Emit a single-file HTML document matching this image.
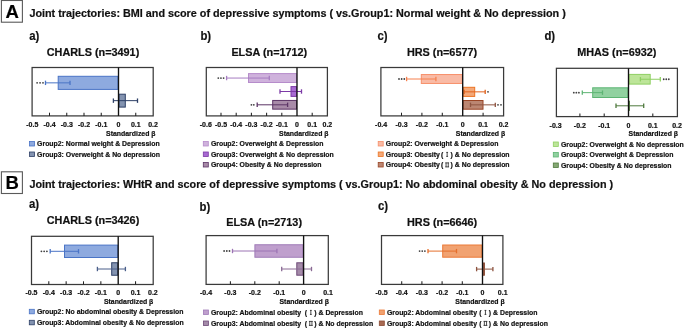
<!DOCTYPE html>
<html><head><meta charset="utf-8"><style>
html,body{margin:0;padding:0;background:#fff;width:685px;height:328px;overflow:hidden}
svg{display:block;font-family:"Liberation Sans", sans-serif}
text{stroke:#111;stroke-width:0.2px}
#w{will-change:transform;width:685px;height:328px}
</style></head><body>
<div id="w"><svg width="685" height="328" viewBox="0 0 685 328">
<rect x="1.40" y="0.50" width="21.00" height="21.70" fill="#fff" stroke="#5a5a5a" stroke-width="1.1"/>
<text x="12.2" y="17.6" font-size="18.5" font-weight="bold" text-anchor="middle" fill="#000" >A</text>
<text x="29.4" y="16.8" font-size="10.8" font-weight="bold" text-anchor="start" fill="#111" >Joint trajectories: BMI and score of depressive symptoms ( vs.Group1: Normal weight &amp; No depression )</text>
<rect x="1.40" y="171.80" width="21.00" height="21.70" fill="#fff" stroke="#5a5a5a" stroke-width="1.1"/>
<text x="12.2" y="188.9" font-size="18.5" font-weight="bold" text-anchor="middle" fill="#000" >B</text>
<text x="29.4" y="188" font-size="10.8" font-weight="bold" text-anchor="start" fill="#111" >Joint trajectories: WHtR and score of depressive symptoms ( vs.Group1: No abdominal obesity &amp; No depression )</text>
<text transform="translate(29.3,40.3) scale(0.88,1)" font-size="12.9" font-weight="bold" fill="#111">a)</text>
<text x="93" y="55.8" font-size="10.85" font-weight="bold" text-anchor="middle" fill="#111" >CHARLS (n=3491)</text>
<rect x="32.10" y="67.50" width="121.10" height="48.40" fill="#fff" stroke="#3a3a3a" stroke-width="1.25"/>
<text x="32.25" y="127" font-size="7" font-weight="bold" text-anchor="middle" fill="#111" >-0.5</text>
<line x1="49.50" y1="115.90" x2="49.50" y2="112.70" stroke="#222" stroke-width="1.05"/>
<text x="49.50" y="127" font-size="7" font-weight="bold" text-anchor="middle" fill="#111" >-0.4</text>
<line x1="66.75" y1="115.90" x2="66.75" y2="112.70" stroke="#222" stroke-width="1.05"/>
<text x="66.75" y="127" font-size="7" font-weight="bold" text-anchor="middle" fill="#111" >-0.3</text>
<line x1="84.00" y1="115.90" x2="84.00" y2="112.70" stroke="#222" stroke-width="1.05"/>
<text x="84.00" y="127" font-size="7" font-weight="bold" text-anchor="middle" fill="#111" >-0.2</text>
<line x1="101.25" y1="115.90" x2="101.25" y2="112.70" stroke="#222" stroke-width="1.05"/>
<text x="101.25" y="127" font-size="7" font-weight="bold" text-anchor="middle" fill="#111" >-0.1</text>
<text x="118.50" y="127" font-size="7" font-weight="bold" text-anchor="middle" fill="#111" >0</text>
<line x1="135.75" y1="115.90" x2="135.75" y2="112.70" stroke="#222" stroke-width="1.05"/>
<text x="135.75" y="127" font-size="7" font-weight="bold" text-anchor="middle" fill="#111" >0.1</text>
<text x="153.00" y="127" font-size="7" font-weight="bold" text-anchor="middle" fill="#111" >0.2</text>
<rect x="58.20" y="76.30" width="59.80" height="13.10" fill="#8eaadf" stroke="#4a74c6" stroke-width="1"/>
<line x1="45.50" y1="82.85" x2="70.00" y2="82.85" stroke="#4a74c6" stroke-width="1.0"/>
<line x1="45.50" y1="80.65" x2="45.50" y2="85.05" stroke="#4a74c6" stroke-width="1.3"/>
<line x1="70.00" y1="80.65" x2="70.00" y2="85.05" stroke="#4a74c6" stroke-width="1.3"/>
<circle cx="37.10" cy="82.85" r="0.9" fill="#404040"/>
<circle cx="40.05" cy="82.85" r="0.9" fill="#404040"/>
<circle cx="43.00" cy="82.85" r="0.9" fill="#404040"/>
<rect x="119.00" y="94.20" width="6.30" height="12.90" fill="#8393b0" stroke="#2e4067" stroke-width="1"/>
<line x1="113.40" y1="100.65" x2="137.50" y2="100.65" stroke="#2e4067" stroke-width="1.0"/>
<line x1="113.40" y1="98.45" x2="113.40" y2="102.85" stroke="#2e4067" stroke-width="1.3"/>
<line x1="137.50" y1="98.45" x2="137.50" y2="102.85" stroke="#2e4067" stroke-width="1.3"/>
<line x1="118.50" y1="67.50" x2="118.50" y2="115.90" stroke="#111" stroke-width="1.35"/>
<text x="155.5" y="135.6" font-size="6.9" font-weight="bold" text-anchor="end" fill="#111" >Standardized β</text>
<rect x="29.50" y="141.50" width="5.00" height="4.50" fill="#8eaadf" stroke="#4a74c6" stroke-width="0.8"/>
<text x="37.10" y="146.30" font-size="6.9" font-weight="bold" text-anchor="start" fill="#111" >Group2: Normal weight &amp; Depression</text>
<rect x="29.50" y="152.00" width="5.00" height="4.50" fill="#8393b0" stroke="#2e4067" stroke-width="0.8"/>
<text x="37.10" y="156.80" font-size="6.9" font-weight="bold" text-anchor="start" fill="#111" >Group3: Overweight &amp; No depression</text>
<text transform="translate(200.4,40.0) scale(0.88,1)" font-size="12.9" font-weight="bold" fill="#111">b)</text>
<text x="269.3" y="55.8" font-size="10.85" font-weight="bold" text-anchor="middle" fill="#111" >ELSA (n=1712)</text>
<rect x="206.30" y="67.50" width="121.10" height="48.40" fill="#fff" stroke="#3a3a3a" stroke-width="1.25"/>
<text x="205.80" y="127" font-size="7" font-weight="bold" text-anchor="middle" fill="#111" >-0.6</text>
<line x1="221.00" y1="115.90" x2="221.00" y2="112.70" stroke="#222" stroke-width="1.05"/>
<text x="221.00" y="127" font-size="7" font-weight="bold" text-anchor="middle" fill="#111" >-0.5</text>
<line x1="236.20" y1="115.90" x2="236.20" y2="112.70" stroke="#222" stroke-width="1.05"/>
<text x="236.20" y="127" font-size="7" font-weight="bold" text-anchor="middle" fill="#111" >-0.4</text>
<line x1="251.40" y1="115.90" x2="251.40" y2="112.70" stroke="#222" stroke-width="1.05"/>
<text x="251.40" y="127" font-size="7" font-weight="bold" text-anchor="middle" fill="#111" >-0.3</text>
<line x1="266.60" y1="115.90" x2="266.60" y2="112.70" stroke="#222" stroke-width="1.05"/>
<text x="266.60" y="127" font-size="7" font-weight="bold" text-anchor="middle" fill="#111" >-0.2</text>
<line x1="281.80" y1="115.90" x2="281.80" y2="112.70" stroke="#222" stroke-width="1.05"/>
<text x="281.80" y="127" font-size="7" font-weight="bold" text-anchor="middle" fill="#111" >-0.1</text>
<text x="297.00" y="127" font-size="7" font-weight="bold" text-anchor="middle" fill="#111" >0</text>
<line x1="312.20" y1="115.90" x2="312.20" y2="112.70" stroke="#222" stroke-width="1.05"/>
<text x="312.20" y="127" font-size="7" font-weight="bold" text-anchor="middle" fill="#111" >0.1</text>
<text x="327.40" y="127" font-size="7" font-weight="bold" text-anchor="middle" fill="#111" >0.2</text>
<rect x="248.50" y="73.60" width="48.00" height="8.90" fill="#cfb2dc" stroke="#b68ccb" stroke-width="1"/>
<line x1="226.60" y1="78.05" x2="269.30" y2="78.05" stroke="#a77dc2" stroke-width="1.0"/>
<line x1="226.60" y1="75.85" x2="226.60" y2="80.25" stroke="#a77dc2" stroke-width="1.3"/>
<line x1="269.30" y1="75.85" x2="269.30" y2="80.25" stroke="#a77dc2" stroke-width="1.3"/>
<circle cx="218.30" cy="78.05" r="0.9" fill="#404040"/>
<circle cx="220.95" cy="78.05" r="0.9" fill="#404040"/>
<circle cx="223.60" cy="78.05" r="0.9" fill="#404040"/>
<rect x="291.00" y="86.60" width="5.50" height="9.80" fill="#a86ad2" stroke="#7c3aa6" stroke-width="1"/>
<line x1="280.00" y1="91.50" x2="301.50" y2="91.50" stroke="#7c3aa6" stroke-width="1.0"/>
<line x1="280.00" y1="89.30" x2="280.00" y2="93.70" stroke="#7c3aa6" stroke-width="1.3"/>
<line x1="301.50" y1="89.30" x2="301.50" y2="93.70" stroke="#7c3aa6" stroke-width="1.3"/>
<rect x="272.70" y="100.45" width="23.80" height="8.70" fill="#a88ba8" stroke="#5c3566" stroke-width="1"/>
<line x1="257.20" y1="104.80" x2="287.60" y2="104.80" stroke="#5c3566" stroke-width="1.0"/>
<line x1="257.20" y1="102.60" x2="257.20" y2="107.00" stroke="#5c3566" stroke-width="1.3"/>
<line x1="287.60" y1="102.60" x2="287.60" y2="107.00" stroke="#5c3566" stroke-width="1.3"/>
<circle cx="251.40" cy="104.80" r="0.9" fill="#404040"/>
<circle cx="253.80" cy="104.80" r="0.9" fill="#404040"/>
<line x1="297.00" y1="67.50" x2="297.00" y2="115.90" stroke="#111" stroke-width="1.35"/>
<text x="328.5" y="135.6" font-size="6.9" font-weight="bold" text-anchor="end" fill="#111" >Standardized β</text>
<rect x="203.30" y="141.50" width="5.00" height="4.50" fill="#cfb2dc" stroke="#b68ccb" stroke-width="0.8"/>
<text x="210.90" y="146.30" font-size="6.9" font-weight="bold" text-anchor="start" fill="#111" >Group2: Overweight &amp; Depression</text>
<rect x="203.30" y="152.00" width="5.00" height="4.50" fill="#a86ad2" stroke="#7c3aa6" stroke-width="0.8"/>
<text x="210.90" y="156.80" font-size="6.9" font-weight="bold" text-anchor="start" fill="#111" >Group3: Overweight &amp; No depression</text>
<rect x="203.30" y="162.50" width="5.00" height="4.50" fill="#a88ba8" stroke="#5c3566" stroke-width="0.8"/>
<text x="210.90" y="167.30" font-size="6.9" font-weight="bold" text-anchor="start" fill="#111" >Group4: Obesity &amp; No depression</text>
<text transform="translate(377.5,40.2) scale(0.88,1)" font-size="12.9" font-weight="bold" fill="#111">c)</text>
<text x="442" y="55.8" font-size="10.85" font-weight="bold" text-anchor="middle" fill="#111" >HRS (n=6577)</text>
<rect x="380.90" y="67.50" width="122.70" height="48.40" fill="#fff" stroke="#3a3a3a" stroke-width="1.25"/>
<text x="381.10" y="127" font-size="7" font-weight="bold" text-anchor="middle" fill="#111" >-0.4</text>
<line x1="401.50" y1="115.90" x2="401.50" y2="112.70" stroke="#222" stroke-width="1.05"/>
<text x="401.50" y="127" font-size="7" font-weight="bold" text-anchor="middle" fill="#111" >-0.3</text>
<line x1="421.90" y1="115.90" x2="421.90" y2="112.70" stroke="#222" stroke-width="1.05"/>
<text x="421.90" y="127" font-size="7" font-weight="bold" text-anchor="middle" fill="#111" >-0.2</text>
<line x1="442.30" y1="115.90" x2="442.30" y2="112.70" stroke="#222" stroke-width="1.05"/>
<text x="442.30" y="127" font-size="7" font-weight="bold" text-anchor="middle" fill="#111" >-0.1</text>
<text x="462.70" y="127" font-size="7" font-weight="bold" text-anchor="middle" fill="#111" >0</text>
<line x1="483.10" y1="115.90" x2="483.10" y2="112.70" stroke="#222" stroke-width="1.05"/>
<text x="483.10" y="127" font-size="7" font-weight="bold" text-anchor="middle" fill="#111" >0.1</text>
<text x="503.50" y="127" font-size="7" font-weight="bold" text-anchor="middle" fill="#111" >0.2</text>
<rect x="421.30" y="74.55" width="40.90" height="8.90" fill="#f9bba6" stroke="#f78f69" stroke-width="1"/>
<line x1="406.60" y1="79.00" x2="435.90" y2="79.00" stroke="#f6804f" stroke-width="1.0"/>
<line x1="406.60" y1="76.80" x2="406.60" y2="81.20" stroke="#f6804f" stroke-width="1.3"/>
<line x1="435.90" y1="76.80" x2="435.90" y2="81.20" stroke="#f6804f" stroke-width="1.3"/>
<circle cx="399.00" cy="79.00" r="0.9" fill="#404040"/>
<circle cx="401.65" cy="79.00" r="0.9" fill="#404040"/>
<circle cx="404.30" cy="79.00" r="0.9" fill="#404040"/>
<rect x="463.20" y="87.30" width="11.50" height="9.10" fill="#f4a878" stroke="#ec7424" stroke-width="1"/>
<line x1="464.10" y1="91.85" x2="485.20" y2="91.85" stroke="#e0621e" stroke-width="1.0"/>
<line x1="464.10" y1="89.65" x2="464.10" y2="94.05" stroke="#e0621e" stroke-width="1.3"/>
<line x1="485.20" y1="89.65" x2="485.20" y2="94.05" stroke="#e0621e" stroke-width="1.3"/>
<circle cx="488.00" cy="91.85" r="0.9" fill="#404040"/>
<rect x="463.20" y="100.50" width="19.80" height="8.70" fill="#bb8672" stroke="#9a4525" stroke-width="1"/>
<line x1="470.50" y1="104.85" x2="495.30" y2="104.85" stroke="#8e5440" stroke-width="1.0"/>
<line x1="470.50" y1="102.65" x2="470.50" y2="107.05" stroke="#8e5440" stroke-width="1.3"/>
<line x1="495.30" y1="102.65" x2="495.30" y2="107.05" stroke="#8e5440" stroke-width="1.3"/>
<circle cx="498.00" cy="104.85" r="0.9" fill="#404040"/>
<circle cx="501.00" cy="104.85" r="0.9" fill="#404040"/>
<line x1="462.70" y1="67.50" x2="462.70" y2="115.90" stroke="#111" stroke-width="1.35"/>
<text x="505.2" y="135.6" font-size="6.9" font-weight="bold" text-anchor="end" fill="#111" >Standardized β</text>
<rect x="378.20" y="141.50" width="5.00" height="4.50" fill="#f9bba6" stroke="#f78f69" stroke-width="0.8"/>
<text x="385.80" y="146.30" font-size="6.9" font-weight="bold" text-anchor="start" fill="#111" >Group2: Overweight &amp; Depression</text>
<rect x="378.20" y="152.00" width="5.00" height="4.50" fill="#f4a878" stroke="#ec7424" stroke-width="0.8"/>
<text x="385.80" y="156.80" font-size="6.9" font-weight="bold" text-anchor="start" fill="#111" >Group3: Obesity</text>
<text x="440.95" y="156.80" font-size="6.9" font-weight="bold" text-anchor="start" fill="#111" >(</text>
<path d="M446.25 152.40H448.05M447.15 152.20V156.60M446.25 156.40H448.05" stroke="#222" stroke-width="0.8" fill="none"/>
<text x="450.45" y="156.80" font-size="6.9" font-weight="bold" text-anchor="start" fill="#111" >)</text>
<text x="454.80" y="156.80" font-size="6.9" font-weight="bold" text-anchor="start" fill="#111" >&amp; No depression</text>
<rect x="378.20" y="162.50" width="5.00" height="4.50" fill="#bb8672" stroke="#9a4525" stroke-width="0.8"/>
<text x="385.80" y="167.30" font-size="6.9" font-weight="bold" text-anchor="start" fill="#111" >Group4: Obesity</text>
<text x="440.95" y="167.30" font-size="6.9" font-weight="bold" text-anchor="start" fill="#111" >(</text>
<path d="M445.25 162.90H449.05M446.05 162.70V167.10M448.25 162.70V167.10M445.25 166.90H449.05" stroke="#222" stroke-width="0.8" fill="none"/>
<text x="450.45" y="167.30" font-size="6.9" font-weight="bold" text-anchor="start" fill="#111" >)</text>
<text x="454.80" y="167.30" font-size="6.9" font-weight="bold" text-anchor="start" fill="#111" >&amp; No depression</text>
<text transform="translate(544.4,40.0) scale(0.88,1)" font-size="12.9" font-weight="bold" fill="#111">d)</text>
<text x="616.8" y="55.8" font-size="10.85" font-weight="bold" text-anchor="middle" fill="#111" >MHAS (n=6932)</text>
<rect x="556.40" y="68.30" width="121.00" height="48.30" fill="#fff" stroke="#3a3a3a" stroke-width="1.25"/>
<text x="555.60" y="127.6" font-size="7" font-weight="bold" text-anchor="middle" fill="#111" >-0.3</text>
<line x1="579.90" y1="116.60" x2="579.90" y2="113.40" stroke="#222" stroke-width="1.05"/>
<text x="579.90" y="127.6" font-size="7" font-weight="bold" text-anchor="middle" fill="#111" >-0.2</text>
<line x1="604.20" y1="116.60" x2="604.20" y2="113.40" stroke="#222" stroke-width="1.05"/>
<text x="604.20" y="127.6" font-size="7" font-weight="bold" text-anchor="middle" fill="#111" >-0.1</text>
<text x="628.50" y="127.6" font-size="7" font-weight="bold" text-anchor="middle" fill="#111" >0</text>
<line x1="652.80" y1="116.60" x2="652.80" y2="113.40" stroke="#222" stroke-width="1.05"/>
<text x="652.80" y="127.6" font-size="7" font-weight="bold" text-anchor="middle" fill="#111" >0.1</text>
<text x="677.10" y="127.6" font-size="7" font-weight="bold" text-anchor="middle" fill="#111" >0.2</text>
<rect x="629.00" y="74.40" width="21.20" height="9.70" fill="#bde599" stroke="#8fcf63" stroke-width="1"/>
<line x1="640.40" y1="79.25" x2="660.30" y2="79.25" stroke="#8fcf63" stroke-width="1.0"/>
<line x1="640.40" y1="77.05" x2="640.40" y2="81.45" stroke="#8fcf63" stroke-width="1.3"/>
<line x1="660.30" y1="77.05" x2="660.30" y2="81.45" stroke="#8fcf63" stroke-width="1.3"/>
<circle cx="663.70" cy="79.25" r="0.9" fill="#404040"/>
<circle cx="666.25" cy="79.25" r="0.9" fill="#404040"/>
<circle cx="668.80" cy="79.25" r="0.9" fill="#404040"/>
<rect x="592.70" y="87.80" width="35.30" height="9.70" fill="#91d1a0" stroke="#5db473" stroke-width="1"/>
<line x1="582.30" y1="92.65" x2="602.50" y2="92.65" stroke="#5db473" stroke-width="1.0"/>
<line x1="582.30" y1="90.45" x2="582.30" y2="94.85" stroke="#5db473" stroke-width="1.3"/>
<line x1="602.50" y1="90.45" x2="602.50" y2="94.85" stroke="#5db473" stroke-width="1.3"/>
<circle cx="573.80" cy="92.65" r="0.9" fill="#404040"/>
<circle cx="576.35" cy="92.65" r="0.9" fill="#404040"/>
<circle cx="578.90" cy="92.65" r="0.9" fill="#404040"/>
<rect x="629.00" y="101.20" width="0.40" height="9.20" fill="#86a874" stroke="#4f7a3e" stroke-width="1"/>
<line x1="616.00" y1="105.80" x2="643.70" y2="105.80" stroke="#4f7a3e" stroke-width="1.0"/>
<line x1="616.00" y1="103.60" x2="616.00" y2="108.00" stroke="#4f7a3e" stroke-width="1.3"/>
<line x1="643.70" y1="103.60" x2="643.70" y2="108.00" stroke="#4f7a3e" stroke-width="1.3"/>
<line x1="628.50" y1="68.30" x2="628.50" y2="116.60" stroke="#111" stroke-width="1.35"/>
<text x="678" y="136" font-size="6.9" font-weight="bold" text-anchor="end" fill="#111" >Standardized β</text>
<rect x="553.30" y="142.00" width="5.00" height="4.50" fill="#bde599" stroke="#8fcf63" stroke-width="0.8"/>
<text x="560.90" y="146.80" font-size="6.9" font-weight="bold" text-anchor="start" fill="#111" >Group2: Overweight &amp; No depression</text>
<rect x="553.30" y="152.50" width="5.00" height="4.50" fill="#91d1a0" stroke="#5db473" stroke-width="0.8"/>
<text x="560.90" y="157.30" font-size="6.9" font-weight="bold" text-anchor="start" fill="#111" >Group3: Overweight &amp; Depression</text>
<rect x="553.30" y="163.00" width="5.00" height="4.50" fill="#86a874" stroke="#4f7a3e" stroke-width="0.8"/>
<text x="560.90" y="167.80" font-size="6.9" font-weight="bold" text-anchor="start" fill="#111" >Group4: Obesity &amp; No depression</text>
<text transform="translate(29.0,208.4) scale(0.88,1)" font-size="12.9" font-weight="bold" fill="#111">a)</text>
<text x="93" y="223.8" font-size="10.85" font-weight="bold" text-anchor="middle" fill="#111" >CHARLS (n=3426)</text>
<rect x="31.50" y="236.30" width="121.70" height="48.20" fill="#fff" stroke="#3a3a3a" stroke-width="1.25"/>
<text x="31.45" y="295.3" font-size="7" font-weight="bold" text-anchor="middle" fill="#111" >-0.5</text>
<line x1="48.80" y1="284.50" x2="48.80" y2="281.30" stroke="#222" stroke-width="1.05"/>
<text x="48.80" y="295.3" font-size="7" font-weight="bold" text-anchor="middle" fill="#111" >-0.4</text>
<line x1="66.15" y1="284.50" x2="66.15" y2="281.30" stroke="#222" stroke-width="1.05"/>
<text x="66.15" y="295.3" font-size="7" font-weight="bold" text-anchor="middle" fill="#111" >-0.3</text>
<line x1="83.50" y1="284.50" x2="83.50" y2="281.30" stroke="#222" stroke-width="1.05"/>
<text x="83.50" y="295.3" font-size="7" font-weight="bold" text-anchor="middle" fill="#111" >-0.2</text>
<line x1="100.85" y1="284.50" x2="100.85" y2="281.30" stroke="#222" stroke-width="1.05"/>
<text x="100.85" y="295.3" font-size="7" font-weight="bold" text-anchor="middle" fill="#111" >-0.1</text>
<text x="118.20" y="295.3" font-size="7" font-weight="bold" text-anchor="middle" fill="#111" >0</text>
<line x1="135.55" y1="284.50" x2="135.55" y2="281.30" stroke="#222" stroke-width="1.05"/>
<text x="135.55" y="295.3" font-size="7" font-weight="bold" text-anchor="middle" fill="#111" >0.1</text>
<text x="152.90" y="295.3" font-size="7" font-weight="bold" text-anchor="middle" fill="#111" >0.2</text>
<rect x="64.50" y="245.10" width="53.20" height="12.40" fill="#8eaadf" stroke="#4a74c6" stroke-width="1"/>
<line x1="50.20" y1="251.30" x2="78.50" y2="251.30" stroke="#4a74c6" stroke-width="1.0"/>
<line x1="50.20" y1="249.10" x2="50.20" y2="253.50" stroke="#4a74c6" stroke-width="1.3"/>
<line x1="78.50" y1="249.10" x2="78.50" y2="253.50" stroke="#4a74c6" stroke-width="1.3"/>
<circle cx="41.40" cy="251.30" r="0.9" fill="#404040"/>
<circle cx="44.15" cy="251.30" r="0.9" fill="#404040"/>
<circle cx="46.90" cy="251.30" r="0.9" fill="#404040"/>
<rect x="111.70" y="262.75" width="6.00" height="12.50" fill="#8393b0" stroke="#2e4067" stroke-width="1"/>
<line x1="97.40" y1="269.00" x2="125.40" y2="269.00" stroke="#4a5f8a" stroke-width="1.0"/>
<line x1="97.40" y1="266.80" x2="97.40" y2="271.20" stroke="#4a5f8a" stroke-width="1.3"/>
<line x1="125.40" y1="266.80" x2="125.40" y2="271.20" stroke="#4a5f8a" stroke-width="1.3"/>
<line x1="118.20" y1="236.30" x2="118.20" y2="284.50" stroke="#111" stroke-width="1.35"/>
<text x="153.3" y="303.8" font-size="6.9" font-weight="bold" text-anchor="end" fill="#111" >Standardized β</text>
<rect x="29.30" y="309.30" width="5.00" height="4.50" fill="#8eaadf" stroke="#4a74c6" stroke-width="0.8"/>
<text x="36.90" y="314.10" font-size="6.9" font-weight="bold" text-anchor="start" fill="#111" >Group2: No abdominal obesity &amp; Depression</text>
<rect x="29.30" y="320.30" width="5.00" height="4.50" fill="#8393b0" stroke="#2e4067" stroke-width="0.8"/>
<text x="36.90" y="325.10" font-size="6.9" font-weight="bold" text-anchor="start" fill="#111" >Group3: Abdominal obesity &amp; No depression</text>
<text transform="translate(199.6,210.5) scale(0.88,1)" font-size="12.9" font-weight="bold" fill="#111">b)</text>
<text x="264.1" y="225.9" font-size="10.85" font-weight="bold" text-anchor="middle" fill="#111" >ELSA (n=2713)</text>
<rect x="206.10" y="235.60" width="122.20" height="48.80" fill="#fff" stroke="#3a3a3a" stroke-width="1.25"/>
<text x="206.00" y="295.3" font-size="7" font-weight="bold" text-anchor="middle" fill="#111" >-0.4</text>
<line x1="230.40" y1="284.40" x2="230.40" y2="281.20" stroke="#222" stroke-width="1.05"/>
<text x="230.40" y="295.3" font-size="7" font-weight="bold" text-anchor="middle" fill="#111" >-0.3</text>
<line x1="254.80" y1="284.40" x2="254.80" y2="281.20" stroke="#222" stroke-width="1.05"/>
<text x="254.80" y="295.3" font-size="7" font-weight="bold" text-anchor="middle" fill="#111" >-0.2</text>
<line x1="279.20" y1="284.40" x2="279.20" y2="281.20" stroke="#222" stroke-width="1.05"/>
<text x="279.20" y="295.3" font-size="7" font-weight="bold" text-anchor="middle" fill="#111" >-0.1</text>
<text x="303.60" y="295.3" font-size="7" font-weight="bold" text-anchor="middle" fill="#111" >0</text>
<text x="328.00" y="295.3" font-size="7" font-weight="bold" text-anchor="middle" fill="#111" >0.1</text>
<rect x="254.90" y="244.75" width="48.20" height="12.50" fill="#bf9fcd" stroke="#a07cb8" stroke-width="1"/>
<line x1="232.50" y1="251.00" x2="276.90" y2="251.00" stroke="#9c74b4" stroke-width="1.0"/>
<line x1="232.50" y1="248.80" x2="232.50" y2="253.20" stroke="#9c74b4" stroke-width="1.3"/>
<line x1="276.90" y1="248.80" x2="276.90" y2="253.20" stroke="#9c74b4" stroke-width="1.3"/>
<circle cx="224.10" cy="251.00" r="0.9" fill="#404040"/>
<circle cx="226.80" cy="251.00" r="0.9" fill="#404040"/>
<circle cx="229.50" cy="251.00" r="0.9" fill="#404040"/>
<rect x="296.80" y="262.80" width="6.30" height="12.40" fill="#a48ba9" stroke="#6e4a78" stroke-width="1"/>
<line x1="281.70" y1="269.00" x2="311.50" y2="269.00" stroke="#8a6a94" stroke-width="1.0"/>
<line x1="281.70" y1="266.80" x2="281.70" y2="271.20" stroke="#8a6a94" stroke-width="1.3"/>
<line x1="311.50" y1="266.80" x2="311.50" y2="271.20" stroke="#8a6a94" stroke-width="1.3"/>
<line x1="303.60" y1="235.60" x2="303.60" y2="284.40" stroke="#111" stroke-width="1.35"/>
<text x="328.9" y="303.8" font-size="6.9" font-weight="bold" text-anchor="end" fill="#111" >Standardized β</text>
<rect x="203.40" y="310.00" width="5.00" height="4.50" fill="#bf9fcd" stroke="#a07cb8" stroke-width="0.8"/>
<text x="211.00" y="314.80" font-size="6.9" font-weight="bold" text-anchor="start" fill="#111" >Group2: Abdominal obesity</text>
<text x="304.65" y="314.80" font-size="6.9" font-weight="bold" text-anchor="start" fill="#111" >(</text>
<path d="M309.95 310.40H311.75M310.85 310.20V314.60M309.95 314.40H311.75" stroke="#222" stroke-width="0.8" fill="none"/>
<text x="314.15" y="314.80" font-size="6.9" font-weight="bold" text-anchor="start" fill="#111" >)</text>
<text x="318.50" y="314.80" font-size="6.9" font-weight="bold" text-anchor="start" fill="#111" >&amp; Depression</text>
<rect x="203.40" y="321.00" width="5.00" height="4.50" fill="#a48ba9" stroke="#6e4a78" stroke-width="0.8"/>
<text x="211.00" y="325.80" font-size="6.9" font-weight="bold" text-anchor="start" fill="#111" >Group3: Abdominal obesity</text>
<text x="304.65" y="325.80" font-size="6.9" font-weight="bold" text-anchor="start" fill="#111" >(</text>
<path d="M308.95 321.40H312.75M309.75 321.20V325.60M311.95 321.20V325.60M308.95 325.40H312.75" stroke="#222" stroke-width="0.8" fill="none"/>
<text x="314.15" y="325.80" font-size="6.9" font-weight="bold" text-anchor="start" fill="#111" >)</text>
<text x="318.50" y="325.80" font-size="6.9" font-weight="bold" text-anchor="start" fill="#111" >&amp; No depression</text>
<text transform="translate(377.9,210.4) scale(0.88,1)" font-size="12.9" font-weight="bold" fill="#111">c)</text>
<text x="442.1" y="225.9" font-size="10.85" font-weight="bold" text-anchor="middle" fill="#111" >HRS (n=6646)</text>
<rect x="381.50" y="235.60" width="121.40" height="48.80" fill="#fff" stroke="#3a3a3a" stroke-width="1.25"/>
<text x="381.50" y="295.3" font-size="7" font-weight="bold" text-anchor="middle" fill="#111" >-0.5</text>
<line x1="401.70" y1="284.40" x2="401.70" y2="281.20" stroke="#222" stroke-width="1.05"/>
<text x="401.70" y="295.3" font-size="7" font-weight="bold" text-anchor="middle" fill="#111" >-0.4</text>
<line x1="421.90" y1="284.40" x2="421.90" y2="281.20" stroke="#222" stroke-width="1.05"/>
<text x="421.90" y="295.3" font-size="7" font-weight="bold" text-anchor="middle" fill="#111" >-0.3</text>
<line x1="442.10" y1="284.40" x2="442.10" y2="281.20" stroke="#222" stroke-width="1.05"/>
<text x="442.10" y="295.3" font-size="7" font-weight="bold" text-anchor="middle" fill="#111" >-0.2</text>
<line x1="462.30" y1="284.40" x2="462.30" y2="281.20" stroke="#222" stroke-width="1.05"/>
<text x="462.30" y="295.3" font-size="7" font-weight="bold" text-anchor="middle" fill="#111" >-0.1</text>
<text x="482.50" y="295.3" font-size="7" font-weight="bold" text-anchor="middle" fill="#111" >0</text>
<text x="502.70" y="295.3" font-size="7" font-weight="bold" text-anchor="middle" fill="#111" >0.1</text>
<rect x="442.70" y="245.00" width="39.30" height="12.20" fill="#f1a271" stroke="#ec7a38" stroke-width="1"/>
<line x1="428.00" y1="251.10" x2="456.50" y2="251.10" stroke="#e56f2c" stroke-width="1.0"/>
<line x1="428.00" y1="248.90" x2="428.00" y2="253.30" stroke="#e56f2c" stroke-width="1.3"/>
<line x1="456.50" y1="248.90" x2="456.50" y2="253.30" stroke="#e56f2c" stroke-width="1.3"/>
<circle cx="419.60" cy="251.10" r="0.9" fill="#404040"/>
<circle cx="422.25" cy="251.10" r="0.9" fill="#404040"/>
<circle cx="424.90" cy="251.10" r="0.9" fill="#404040"/>
<rect x="483.00" y="263.00" width="1.40" height="12.20" fill="#a86a52" stroke="#8a4a32" stroke-width="1"/>
<line x1="476.60" y1="269.10" x2="492.90" y2="269.10" stroke="#8e5440" stroke-width="1.0"/>
<line x1="476.60" y1="266.90" x2="476.60" y2="271.30" stroke="#8e5440" stroke-width="1.3"/>
<line x1="492.90" y1="266.90" x2="492.90" y2="271.30" stroke="#8e5440" stroke-width="1.3"/>
<line x1="482.50" y1="235.60" x2="482.50" y2="284.40" stroke="#111" stroke-width="1.35"/>
<text x="504.7" y="303.8" font-size="6.9" font-weight="bold" text-anchor="end" fill="#111" >Standardized β</text>
<rect x="379.30" y="310.00" width="5.00" height="4.50" fill="#f1a271" stroke="#ec7a38" stroke-width="0.8"/>
<text x="386.90" y="314.80" font-size="6.9" font-weight="bold" text-anchor="start" fill="#111" >Group2: Abdominal obesity</text>
<text x="479.25" y="314.80" font-size="6.9" font-weight="bold" text-anchor="start" fill="#111" >(</text>
<path d="M484.55 310.40H486.35M485.45 310.20V314.60M484.55 314.40H486.35" stroke="#222" stroke-width="0.8" fill="none"/>
<text x="488.75" y="314.80" font-size="6.9" font-weight="bold" text-anchor="start" fill="#111" >)</text>
<text x="493.10" y="314.80" font-size="6.9" font-weight="bold" text-anchor="start" fill="#111" >&amp; Depression</text>
<rect x="379.30" y="321.00" width="5.00" height="4.50" fill="#a86a52" stroke="#8a4a32" stroke-width="0.8"/>
<text x="386.90" y="325.80" font-size="6.9" font-weight="bold" text-anchor="start" fill="#111" >Group3: Abdominal obesity</text>
<text x="479.25" y="325.80" font-size="6.9" font-weight="bold" text-anchor="start" fill="#111" >(</text>
<path d="M483.55 321.40H487.35M484.35 321.20V325.60M486.55 321.20V325.60M483.55 325.40H487.35" stroke="#222" stroke-width="0.8" fill="none"/>
<text x="488.75" y="325.80" font-size="6.9" font-weight="bold" text-anchor="start" fill="#111" >)</text>
<text x="493.10" y="325.80" font-size="6.9" font-weight="bold" text-anchor="start" fill="#111" >&amp; No depression</text>
</svg></div>
</body></html>
